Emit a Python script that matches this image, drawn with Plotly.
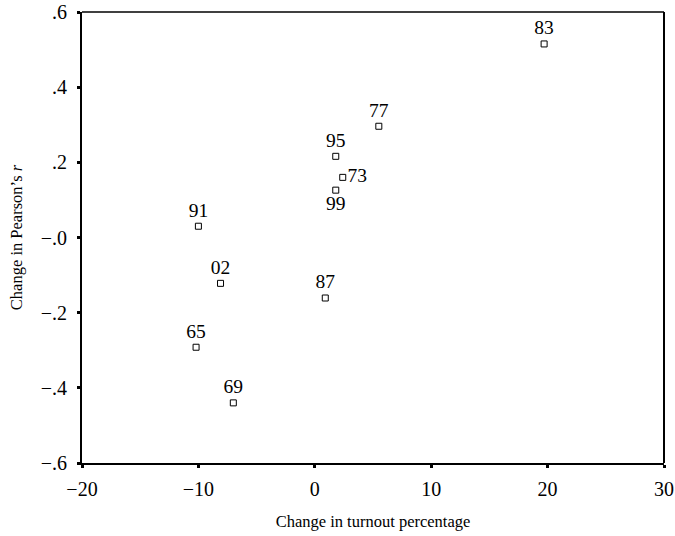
import plotly.graph_objects as go

labels = ["83", "77", "95", "73", "99", "87", "91", "02", "65", "69"]
turnout_change = [19.7, 5.5, 1.8, 2.4, 1.8, 0.9, -10.0, -8.1, -10.2, -7.0]
pearson_change = [0.515, 0.296, 0.216, 0.160, 0.126, -0.161, 0.030, -0.122, -0.292, -0.440]
label_pos = ["top center", "top center", "top center", "middle right", "bottom center",
             "top center", "top center", "top center", "top center", "top center"]

x_ticks = [-20, -10, 0, 10, 20, 30]
x_ticktext = ["\u221220", "\u221210", "0", "10", "20", "30"]
y_ticks = [0.6, 0.4, 0.2, 0.0, -0.2, -0.4, -0.6]
y_ticktext = [".6", ".4", ".2", "\u2212.0", "\u2212.2", "\u2212.4", "\u2212.6"]

FONT = "Liberation Serif, Times New Roman, serif"

fig = go.Figure(go.Scatter(
    x=turnout_change, y=pearson_change, mode="markers+text",
    text=labels, textposition=label_pos,
    textfont=dict(family=FONT, size=19.5, color="black"),
    marker=dict(symbol="square-open", size=6, color="black", line=dict(width=1, color="black")),
    cliponaxis=False, showlegend=False,
))

axis_common = dict(showgrid=False, zeroline=False, showline=True, linecolor="black",
                   linewidth=2, ticks="outside", ticklen=3, tickwidth=3, tickcolor="black",
                   tickfont=dict(family=FONT, size=20, color="black"), mirror=False,
                   automargin=False, ticklabeloverflow="allow")

fig.update_xaxes(range=[-20, 30], tickvals=x_ticks, ticktext=x_ticktext,
                 title=dict(text="Change in turnout percentage", font=dict(family=FONT, size=16.5, color="black"), standoff=16),
                 ticklabelstandoff=4, **axis_common)
fig.update_yaxes(range=[-0.6, 0.6], tickvals=y_ticks, ticktext=y_ticktext,
                 title=dict(text="Change in Pearson\u2019s <i>r</i>", font=dict(family=FONT, size=16.5, color="black"), standoff=14),
                 ticklabelstandoff=6, **axis_common)

# top and right border lines
fig.add_shape(type="line", xref="paper", yref="paper", x0=0, x1=1, y0=1, y1=1,
              line=dict(color="black", width=1.5))
fig.add_shape(type="line", xref="paper", yref="paper", x0=1, x1=1, y0=0, y1=1,
              line=dict(color="black", width=2))

fig.update_layout(
    width=675, height=536,
    margin=dict(l=82, r=11, t=12, b=73),
    plot_bgcolor="white", paper_bgcolor="white",
    font=dict(family=FONT, color="black"),
)

fig.write_html("out.html", config={"displayModeBar": False},
               post_script="document.body.style.margin='0';")
